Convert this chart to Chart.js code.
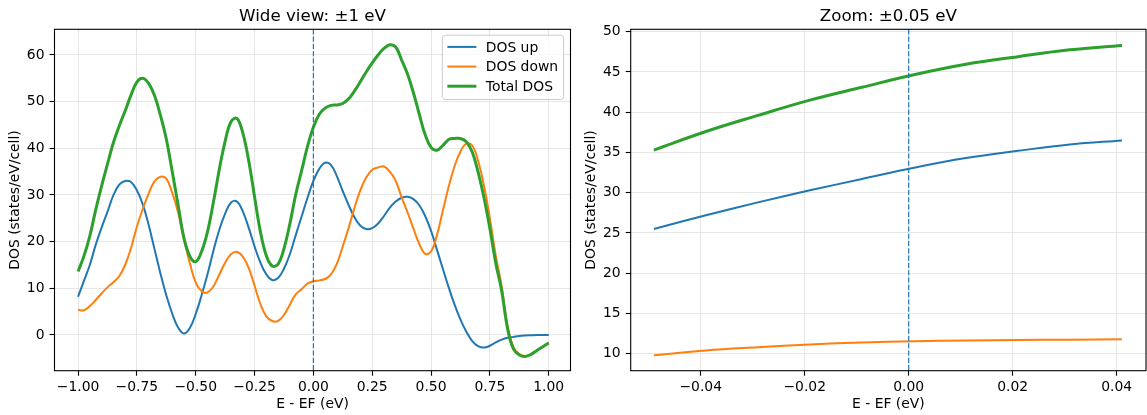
<!DOCTYPE html>
<html>
<head>
<meta charset="utf-8">
<script src="https://cdn.jsdelivr.net/npm/chart.js@4/dist/chart.umd.min.js"></script>
<style>
  html, body { margin: 0; padding: 0; background: #fff; }
  #wrap { position: relative; width: 1147px; height: 415px; overflow: hidden; background: #fff; }
  canvas { position: absolute; top: 0; }
  #wide { left: 0; }
  #zoom { left: 575px; }
</style>
</head>
<body>
<div id="wrap">
  <canvas id="wide" width="575" height="415"></canvas>
  <canvas id="zoom" width="572" height="415"></canvas>
</div>
<script>
// wide view, E - EF from -1 to 1 eV
const wideEnergy = [
  -1.000, -0.975, -0.950, -0.925, -0.900, -0.875, -0.850, -0.825, -0.800, -0.775,
  -0.750, -0.725, -0.700, -0.675, -0.650, -0.625, -0.600, -0.575, -0.550, -0.525,
  -0.500, -0.475, -0.450, -0.425, -0.400, -0.375, -0.350, -0.325, -0.300, -0.275,
  -0.250, -0.225, -0.200, -0.175, -0.150, -0.125, -0.100, -0.075, -0.050, -0.025,
  0.000, 0.025, 0.050, 0.075, 0.100, 0.125, 0.150, 0.175, 0.200, 0.225,
  0.250, 0.275, 0.300, 0.325, 0.350, 0.375, 0.400, 0.425, 0.450, 0.475,
  0.500, 0.525, 0.550, 0.575, 0.600, 0.625, 0.650, 0.675, 0.700, 0.725,
  0.750, 0.775, 0.800, 0.825, 0.850, 0.875, 0.900, 0.925, 0.950, 0.975, 1.000
];
const wideUp = [
  8.2, 11.6, 15.0, 19.3, 23.0, 26.4, 29.9, 32.2, 33.0, 32.8,
  31.0, 28.0, 23.6, 18.4, 13.2, 8.5, 4.6, 1.6, 0.3, 1.5,
  4.5, 8.5, 13.0, 18.0, 22.5, 26.0, 28.4, 28.6, 26.5, 23.0,
  19.0, 15.5, 13.0, 11.8, 12.2, 14.2, 17.3, 21.4, 25.4, 29.4,
  33.0, 35.6, 36.9, 36.4, 34.0, 30.8, 27.8, 25.2, 23.4, 22.7,
  22.9, 23.9, 25.5, 27.3, 28.6, 29.4, 29.6, 29.1, 27.8, 25.5,
  22.3, 18.3, 14.2, 10.2, 6.5, 3.3, 0.7, -1.3, -2.4, -2.7,
  -2.3, -1.6, -1.0, -0.6, -0.4, -0.2, -0.1, -0.05, 0.0, 0.0, 0.0
];
const wideDown = [
  5.4, 5.3, 6.2, 7.5, 8.9, 10.2, 11.3, 12.6, 15.0, 18.6,
  23.2, 27.0, 30.3, 32.9, 33.9, 33.5, 30.5, 26.3, 20.5, 15.4,
  11.2, 9.4, 9.1, 10.4, 12.9, 15.5, 17.3, 17.8, 16.8, 14.4,
  10.6, 6.6, 4.0, 3.0, 3.0, 4.3, 6.5, 8.7, 9.8, 11.0,
  11.5, 11.7, 12.0, 13.0, 15.3, 19.0, 23.0, 27.3, 31.1, 33.8,
  35.4, 35.9, 36.1, 35.0, 33.0, 29.5, 26.3, 22.8, 19.5, 17.4,
  17.9, 21.4, 26.6, 31.8, 36.2, 39.3, 41.0, 40.6, 37.3, 32.0,
  25.0, 17.0, 10.5, 2.0, -2.6, -4.1, -4.5, -4.1, -3.3, -2.5, -1.7
];
const wideTotal = [
  13.6, 16.9, 21.2, 26.8, 31.9, 36.6, 41.2, 44.8, 48.0, 51.4,
  54.2, 55.0, 53.9, 51.3, 47.1, 42.0, 35.1, 27.9, 20.8, 16.9,
  15.7, 17.9, 22.1, 28.4, 35.4, 41.5, 45.7, 46.4, 43.3, 37.4,
  29.6, 22.1, 17.0, 14.8, 15.2, 18.5, 23.8, 30.1, 35.2, 40.4,
  44.5, 47.3, 48.6, 49.2, 49.3, 49.6, 50.6, 52.3, 54.3, 56.4,
  58.3, 60.0, 61.4, 62.2, 61.7, 58.9, 55.9, 51.9, 47.3, 42.9,
  40.2, 39.6, 40.6, 41.9, 42.1, 42.1, 41.4, 39.2, 34.9, 29.4,
  22.8, 15.4, 9.5, 1.4, -3.0, -4.3, -4.6, -4.15, -3.3, -2.5, -1.7
];

// zoom view, points within +-0.05 eV
const zoomEnergy = [-0.049, -0.039, -0.029, -0.019, -0.009, 0.001, 0.011, 0.021, 0.031, 0.041];
const zoomUp = [25.5, 27.2, 28.8, 30.3, 31.7, 33.1, 34.3, 35.2, 36.0, 36.5];
const zoomDown = [9.8, 10.4, 10.8, 11.15, 11.4, 11.55, 11.65, 11.7, 11.75, 11.8];
const zoomTotal = [35.3, 37.6, 39.6, 41.5, 43.1, 44.65, 45.95, 46.9, 47.75, 48.3];

const wideXTicks = [-1, -0.75, -0.5, -0.25, 0, 0.25, 0.5, 0.75, 1];
const wideYTicks = [0, 10, 20, 30, 40, 50, 60];
const zoomXTicks = [-0.04, -0.02, 0, 0.02, 0.04];
const zoomYTicks = [10, 15, 20, 25, 30, 35, 40, 45, 50];

const seriesNames = ['DOS up', 'DOS down', 'Total DOS'];
const seriesColors = ['#1f77b4', '#ff7f0e', '#2ca02c'];
const seriesWidths = [2, 2, 3];

const FONT = '"DejaVu Sans", "Liberation Sans", sans-serif';

const minus = s => s.replace('-', '\u2212');
const fmt2 = v => minus((Math.abs(v) < 1e-9 ? 0 : v).toFixed(2));
const fmt0 = v => minus(String(Math.round(v)));

// title, spines, fermi line and legend, drawn matplotlib-style
const figurePlugin = {
  id: 'figure',
  afterDatasetsDraw(chart, args, opts) {
    const { ctx, chartArea: a, scales } = chart;
    const px = scales.x.getPixelForValue(0);
    ctx.save();
    ctx.strokeStyle = '#1f77b4';
    ctx.lineWidth = 1.2;
    ctx.setLineDash([5.1, 2.2]);
    ctx.beginPath();
    ctx.moveTo(px, a.top);
    ctx.lineTo(px, a.bottom);
    ctx.stroke();
    ctx.restore();
  },
  afterDraw(chart, args, opts) {
    const { ctx, chartArea: a } = chart;
    ctx.save();
    ctx.strokeStyle = '#000';
    ctx.lineWidth = 1.1;
    ctx.strokeRect(a.left, a.top, a.right - a.left, a.bottom - a.top);

    ctx.fillStyle = '#000';
    ctx.font = '16.7px ' + FONT;
    ctx.textAlign = 'center';
    ctx.textBaseline = 'alphabetic';
    ctx.fillText(opts.title, (a.left + a.right) / 2, a.top - 8.4);

    if (opts.legend) {
      const items = chart.data.datasets;
      ctx.font = '13.9px ' + FONT;
      const tw = Math.max(...items.map(d => ctx.measureText(d.label).width));
      const w = 5 + 29 + 9.4 + tw + 5.5;
      const h = 64.3;
      const bx = a.right - 6.9 - w;
      const by = a.top + 5.9;
      ctx.fillStyle = 'rgba(255,255,255,0.8)';
      ctx.strokeStyle = '#cccccc';
      ctx.lineWidth = 1;
      ctx.beginPath();
      ctx.roundRect(bx, by, w, h, 3);
      ctx.fill();
      ctx.stroke();
      items.forEach((d, i) => {
        const yy = by + 11.7 + i * 19.65;
        ctx.strokeStyle = d.borderColor;
        ctx.lineWidth = d.borderWidth;
        ctx.beginPath();
        ctx.moveTo(bx + 5, yy);
        ctx.lineTo(bx + 34, yy);
        ctx.stroke();
        ctx.fillStyle = '#000';
        ctx.textAlign = 'left';
        ctx.textBaseline = 'middle';
        ctx.fillText(d.label, bx + 43.4, yy + 1);
      });
    }
    ctx.restore();
  }
};

function axis(min, max, tickValues, fmt, titleText, horizontal) {
  return {
    type: 'linear',
    min: min,
    max: max,
    afterBuildTicks: s => { s.ticks = tickValues.map(v => ({ value: v })); },
    afterFit: s => {
      if (horizontal) s.height = 44.3;
      else s.width = 54.5;
    },
    border: { display: false },
    grid: {
      color: '#e6e6e6',
      lineWidth: 1,
      tickColor: '#000',
      tickLength: 5,
      tickWidth: 1.1
    },
    ticks: {
      color: '#000',
      font: { family: FONT, size: 13.9 },
      padding: horizontal ? 3.5 : 5,
      autoSkip: false,
      maxRotation: 0,
      callback: v => fmt(v)
    },
    title: {
      display: true,
      text: titleText,
      color: '#000',
      font: { family: FONT, size: 13.9 },
      padding: horizontal ? { top: 0, bottom: 2.7 } : { top: 7.2, bottom: 0 }
    }
  };
}

function drawPanel(id, energy, series, xRange, yRange, xTicks, yTicks, title, legend, padLeft, padRight) {
  const datasets = series.map((vals, i) => ({
    label: seriesNames[i],
    data: energy.map((e, j) => ({ x: e, y: vals[j] })),
    borderColor: seriesColors[i],
    backgroundColor: seriesColors[i],
    borderWidth: seriesWidths[i],
    pointRadius: 0,
    fill: false,
    tension: 0.4,
    order: 3 - i
  }));
  return new Chart(document.getElementById(id), {
    type: 'line',
    data: { datasets: datasets },
    plugins: [figurePlugin],
    options: {
      responsive: false,
      devicePixelRatio: 1,
      animation: false,
      events: [],
      layout: { padding: { left: padLeft, right: padRight, top: 29.3, bottom: 0 } },
      scales: {
        x: axis(xRange[0], xRange[1], xTicks, fmt2, 'E - EF (eV)', true),
        y: axis(yRange[0], yRange[1], yTicks, fmt0, 'DOS (states/eV/cell)', false)
      },
      plugins: {
        legend: { display: false },
        tooltip: { enabled: false },
        figure: { title: title, legend: legend }
      }
    }
  });
}

drawPanel('wide', wideEnergy, [wideUp, wideDown, wideTotal],
  [-1.1, 1.0925], [-7.65, 65.5], wideXTicks, wideYTicks,
  'Wide view: \u00b11 eV', true, 0, 4.5);

drawPanel('zoom', zoomEnergy, [zoomUp, zoomDown, zoomTotal],
  [-0.05346, 0.04563], [7.89, 50.3], zoomXTicks, zoomYTicks,
  'Zoom: \u00b10.05 eV', false, 1.2, 1);
</script>
</body>
</html>
